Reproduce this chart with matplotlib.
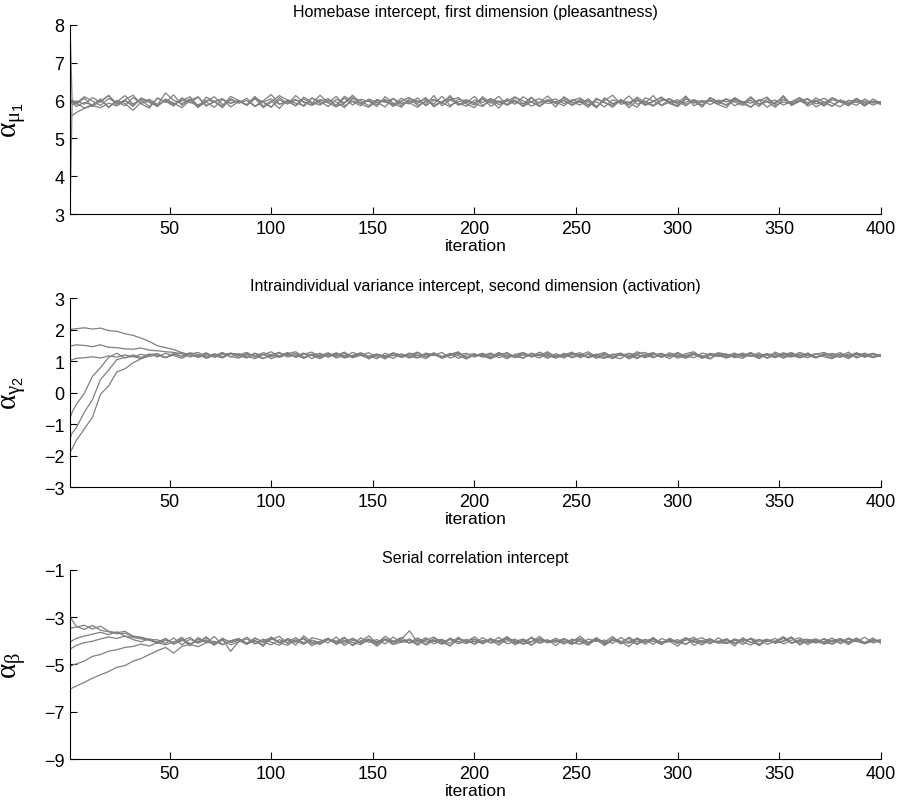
import numpy as np
import matplotlib
matplotlib.use("Agg")
import matplotlib.pyplot as plt

plt.rcParams['font.family'] = ['Liberation Sans', 'DejaVu Sans']
plt.rcParams['mathtext.fontset'] = 'custom'
plt.rcParams['mathtext.it'] = 'Liberation Serif'
plt.rcParams['mathtext.rm'] = 'Liberation Sans'

# iterations at which the chains are drawn
iters = np.r_[1, 2, np.arange(4, 401, 4)]

# ---- panel 1: homebase intercept, first dimension ----
mu_1 = [8.00, 6.02,
        5.90, 6.06, 5.84, 5.99, 6.12, 5.86, 6.02, 6.14, 5.91, 5.80,
        6.07, 5.95, 6.15, 5.87, 6.03, 5.82, 6.09, 5.97, 5.85, 6.11,
        6.00, 5.88, 6.06, 5.81, 5.96, 6.13, 6.01, 5.86, 6.04, 5.92,
        6.14, 5.94, 5.83, 6.07, 5.88, 6.03, 5.98, 5.84, 6.10, 5.93,
        5.82, 6.05, 5.99, 5.89, 6.13, 5.86, 6.01, 6.08, 5.91, 5.81,
        6.04, 5.94, 6.11, 5.87, 5.99, 5.85, 6.07, 5.93, 6.02, 5.83,
        6.10, 5.96, 5.88, 6.05, 5.84, 6.00, 6.14, 5.90, 5.95, 5.82,
        6.07, 5.99, 5.87, 6.03, 5.93, 6.12, 5.86, 5.97, 6.02, 5.89,
        5.81, 6.08, 5.95, 6.00, 5.84, 6.05, 5.91, 6.13, 5.87, 5.98,
        6.03, 5.83, 5.94, 6.07, 5.97, 5.86, 6.01, 5.90, 5.96, 5.92]
mu_2 = [3.00, 5.88,
        5.94, 5.80, 5.89, 6.02, 5.83, 5.97, 5.86, 6.08, 5.92, 5.99,
        5.84, 6.04, 5.93, 5.81, 6.00, 6.10, 5.87, 5.96, 6.05, 5.83,
        5.97, 5.89, 6.11, 5.85, 5.99, 5.79, 6.02, 5.93, 5.87, 6.06,
        5.98, 5.84, 6.03, 5.94, 6.14, 5.91, 5.82, 6.00, 5.96, 6.05,
        5.86, 5.99, 5.92, 6.08, 5.83, 5.97, 6.03, 5.88, 5.94, 6.11,
        5.87, 6.00, 5.80, 6.05, 5.96, 5.91, 6.09, 5.84, 5.99, 5.93,
        6.01, 5.88, 5.97, 5.82, 6.06, 5.94, 5.87, 6.03, 5.81, 6.00,
        5.93, 6.13, 5.86, 5.96, 6.02, 5.90, 5.99, 5.83, 6.08, 5.95,
        5.89, 6.03, 5.97, 5.82, 6.00, 6.09, 5.87, 5.96, 5.91, 6.05,
        5.85, 5.97, 6.06, 5.93, 5.83, 6.01, 5.95, 5.99, 5.88, 5.96]
mu_3 = [5.62, 5.60,
        5.68, 5.79, 5.86, 5.81, 5.93, 5.86, 5.99, 5.89, 6.05, 5.95,
        5.85, 6.02, 5.91, 5.99, 6.10, 5.86, 5.96, 5.82, 6.03, 5.93,
        6.00, 5.88, 6.07, 5.96, 5.83, 6.02, 5.91, 6.13, 5.95, 5.87,
        5.98, 6.05, 5.84, 5.93, 6.09, 5.99, 5.86, 6.03, 5.96, 5.88,
        6.06, 5.94, 5.82, 6.00, 5.91, 6.11, 5.87, 5.97, 6.02, 5.92,
        5.84, 6.04, 5.96, 5.89, 6.08, 5.99, 5.85, 5.95, 6.12, 5.91,
        6.00, 5.87, 6.03, 5.96, 5.81, 6.06, 5.92, 5.98, 5.88, 6.09,
        5.95, 5.85, 5.99, 6.05, 5.90, 5.96, 6.02, 5.83, 6.07, 5.97,
        5.87, 6.00, 5.92, 6.10, 5.89, 5.97, 5.82, 6.03, 5.94, 5.99,
        6.05, 5.91, 5.96, 5.85, 6.02, 5.92, 6.06, 5.87, 5.98, 5.95]
mu_4 = [5.95, 5.90,
        5.99, 5.90, 6.08, 5.95, 6.14, 5.91, 6.01, 5.84, 6.07, 5.97,
        5.88, 6.20, 6.00, 5.92, 6.04, 5.82, 5.97, 6.10, 5.89, 6.01,
        5.94, 6.06, 5.85, 5.99, 6.16, 5.90, 5.96, 6.03, 5.84, 6.07,
        5.92, 6.00, 5.88, 6.11, 5.97, 5.86, 6.04, 5.94, 6.01, 5.90,
        5.99, 6.08, 5.87, 5.96, 6.03, 5.92, 6.13, 5.89, 6.00, 5.94,
        6.05, 5.85, 5.97, 6.01, 5.90, 6.10, 5.96, 5.86, 5.99, 6.04,
        5.92, 6.00, 6.07, 5.88, 5.97, 5.83, 6.02, 5.94, 6.12, 5.90,
        5.99, 5.87, 6.04, 5.96, 5.85, 6.08, 5.93, 6.00, 5.89, 6.01,
        5.96, 6.06, 5.91, 5.83, 6.02, 5.97, 5.92, 6.10, 5.87, 5.99,
        5.94, 6.01, 5.88, 6.07, 5.97, 5.90, 6.00, 5.85, 6.04, 5.93]
mu_5 = [5.92, 5.97,
        5.84, 5.95, 5.88, 6.04, 5.81, 6.00, 5.92, 5.74, 5.96, 6.03,
        5.90, 5.99, 5.85, 6.07, 5.95, 5.88, 6.01, 5.97, 5.81, 6.05,
        5.93, 6.00, 5.84, 5.96, 6.04, 5.90, 5.98, 5.86, 6.09, 5.95,
        5.88, 6.01, 5.96, 5.81, 6.05, 5.93, 5.99, 5.89, 6.03, 5.84,
        5.97, 5.91, 6.07, 5.86, 6.00, 5.95, 5.83, 6.04, 5.96, 5.88,
        6.10, 5.93, 5.99, 5.89, 6.01, 5.84, 5.97, 6.05, 5.92, 5.96,
        5.86, 6.02, 5.95, 6.00, 5.81, 6.07, 5.90, 5.99, 5.93, 6.01,
        5.87, 5.97, 6.09, 5.92, 5.84, 6.04, 5.96, 5.89, 6.00, 5.95,
        6.05, 5.86, 5.97, 5.93, 6.01, 5.82, 5.96, 6.03, 5.91, 5.99,
        5.89, 6.07, 5.95, 5.85, 6.00, 5.96, 5.87, 6.04, 5.93, 5.97]
mu_6 = [5.98, 6.01,
        5.93, 6.10, 5.99, 5.87, 6.05, 5.96, 6.13, 5.91, 6.01, 5.84,
        6.06, 5.97, 5.89, 6.02, 5.94, 6.09, 5.85, 5.98, 6.04, 5.92,
        6.00, 5.87, 6.05, 5.96, 5.82, 6.08, 5.91, 6.01, 5.97, 5.88,
        6.03, 5.94, 6.11, 5.86, 5.98, 5.92, 6.02, 5.96, 5.83, 6.06,
        5.91, 5.99, 5.96, 6.04, 5.87, 5.97, 6.08, 5.93, 5.85, 6.01,
        5.95, 6.05, 5.89, 5.98, 6.10, 5.91, 5.97, 5.85, 6.02, 5.96,
        6.06, 5.93, 6.00, 5.87, 6.03, 5.96, 5.82, 6.01, 5.95, 6.05,
        5.89, 5.98, 6.09, 5.93, 5.97, 5.86, 6.02, 5.95, 5.99, 5.90,
        6.03, 5.96, 5.87, 6.06, 5.91, 5.98, 6.01, 5.88, 5.97, 6.08,
        5.93, 5.99, 5.85, 6.02, 5.96, 5.90, 6.05, 5.94, 5.98, 5.89]

# ---- panel 2: intraindividual variance intercept, second dimension ----
gam_1 = [2.00, 2.02,
         2.03, 2.06, 2.02, 2.05, 1.97, 1.95, 1.87, 1.82, 1.73, 1.63,
         1.49, 1.43, 1.37, 1.27, 1.21, 1.16, 1.27, 1.12, 1.22, 1.25,
         1.12, 1.24, 1.16, 1.08, 1.21, 1.28, 1.13, 1.20, 1.09, 1.23,
         1.17, 1.27, 1.10, 1.19, 1.14, 1.25, 1.07, 1.22, 1.15, 1.26,
         1.12, 1.19, 1.29, 1.13, 1.23, 1.09, 1.18, 1.25, 1.12, 1.21,
         1.16, 1.08, 1.26, 1.17, 1.13, 1.23, 1.20, 1.10, 1.27, 1.15,
         1.21, 1.11, 1.19, 1.30, 1.13, 1.09, 1.23, 1.17, 1.25, 1.12,
         1.20, 1.27, 1.13, 1.22, 1.10, 1.18, 1.26, 1.15, 1.07, 1.23,
         1.14, 1.21, 1.17, 1.28, 1.11, 1.20, 1.24, 1.09, 1.21, 1.16,
         1.26, 1.13, 1.20, 1.10, 1.23, 1.17, 1.27, 1.12, 1.21, 1.15]
gam_2 = [1.50, 1.49,
         1.52, 1.50, 1.46, 1.52, 1.44, 1.43, 1.39, 1.38, 1.42, 1.35,
         1.33, 1.30, 1.28, 1.23, 1.20, 1.14, 1.23, 1.17, 1.11, 1.24,
         1.22, 1.13, 1.26, 1.09, 1.19, 1.16, 1.28, 1.12, 1.23, 1.18,
         1.08, 1.22, 1.15, 1.25, 1.11, 1.19, 1.27, 1.13, 1.18, 1.09,
         1.23, 1.16, 1.10, 1.26, 1.20, 1.13, 1.21, 1.29, 1.11, 1.18,
         1.25, 1.12, 1.20, 1.08, 1.22, 1.27, 1.15, 1.23, 1.13, 1.19,
         1.10, 1.25, 1.18, 1.14, 1.23, 1.11, 1.20, 1.26, 1.07, 1.21,
         1.15, 1.24, 1.12, 1.27, 1.18, 1.09, 1.22, 1.14, 1.25, 1.19,
         1.11, 1.18, 1.26, 1.15, 1.21, 1.10, 1.29, 1.17, 1.13, 1.23,
         1.20, 1.10, 1.24, 1.17, 1.12, 1.23, 1.15, 1.26, 1.13, 1.20]
gam_3 = [1.06, 1.04,
         1.09, 1.11, 1.14, 1.10, 1.17, 1.13, 1.20, 1.14, 1.22, 1.16,
         1.21, 1.11, 1.25, 1.15, 1.23, 1.12, 1.21, 1.17, 1.28, 1.13,
         1.24, 1.16, 1.08, 1.22, 1.14, 1.26, 1.18, 1.25, 1.10, 1.20,
         1.13, 1.23, 1.18, 1.29, 1.12, 1.22, 1.16, 1.08, 1.25, 1.17,
         1.22, 1.10, 1.20, 1.15, 1.27, 1.13, 1.23, 1.18, 1.07, 1.21,
         1.18, 1.26, 1.11, 1.20, 1.15, 1.28, 1.13, 1.22, 1.09, 1.24,
         1.15, 1.21, 1.27, 1.11, 1.20, 1.17, 1.08, 1.24, 1.13, 1.30,
         1.20, 1.11, 1.23, 1.15, 1.26, 1.12, 1.22, 1.09, 1.18, 1.27,
         1.22, 1.15, 1.09, 1.25, 1.18, 1.24, 1.12, 1.20, 1.28, 1.11,
         1.18, 1.24, 1.14, 1.08, 1.22, 1.13, 1.26, 1.20, 1.11, 1.18]
gam_4 = [-0.80, -0.62,
         -0.38, -0.02, 0.52, 0.80, 1.12, 1.25, 1.10, 1.20, 1.12, 1.23,
         1.14, 1.25, 1.18, 1.09, 1.22, 1.28, 1.15, 1.20, 1.11, 1.24,
         1.18, 1.10, 1.24, 1.20, 1.30, 1.13, 1.22, 1.15, 1.26, 1.08,
         1.21, 1.15, 1.27, 1.12, 1.18, 1.24, 1.13, 1.20, 1.07, 1.26,
         1.15, 1.24, 1.11, 1.22, 1.18, 1.28, 1.10, 1.20, 1.25, 1.13,
         1.22, 1.08, 1.20, 1.26, 1.15, 1.11, 1.24, 1.18, 1.30, 1.13,
         1.20, 1.27, 1.13, 1.22, 1.09, 1.25, 1.15, 1.20, 1.11, 1.24,
         1.28, 1.13, 1.20, 1.08, 1.24, 1.18, 1.11, 1.26, 1.20, 1.15,
         1.23, 1.11, 1.22, 1.15, 1.27, 1.09, 1.20, 1.13, 1.25, 1.18,
         1.11, 1.22, 1.28, 1.15, 1.20, 1.08, 1.24, 1.18, 1.13, 1.21]
gam_5 = [-1.45, -1.28,
         -1.12, -0.62, -0.22, 0.42, 0.72, 1.05, 1.12, 1.15, 1.08, 1.21,
         1.24, 1.12, 1.20, 1.28, 1.13, 1.22, 1.09, 1.18, 1.25, 1.15,
         1.10, 1.22, 1.15, 1.27, 1.20, 1.12, 1.24, 1.30, 1.13, 1.20,
         1.25, 1.13, 1.22, 1.10, 1.18, 1.27, 1.15, 1.23, 1.11, 1.20,
         1.13, 1.26, 1.18, 1.08, 1.24, 1.15, 1.22, 1.29, 1.11, 1.18,
         1.24, 1.15, 1.28, 1.12, 1.20, 1.09, 1.26, 1.17, 1.22, 1.11,
         1.18, 1.29, 1.11, 1.24, 1.15, 1.22, 1.13, 1.08, 1.25, 1.20,
         1.11, 1.20, 1.25, 1.15, 1.28, 1.13, 1.22, 1.18, 1.09, 1.24,
         1.18, 1.26, 1.13, 1.20, 1.08, 1.24, 1.15, 1.27, 1.18, 1.11,
         1.22, 1.13, 1.18, 1.25, 1.15, 1.29, 1.10, 1.20, 1.24, 1.15]
gam_6 = [-1.88, -1.78,
         -1.52, -1.15, -0.78, -0.05, 0.22, 0.66, 0.76, 0.95, 1.08, 1.16,
         1.20, 1.11, 1.23, 1.15, 1.27, 1.20, 1.12, 1.24, 1.14, 1.26,
         1.20, 1.28, 1.13, 1.22, 1.08, 1.18, 1.25, 1.15, 1.22, 1.29,
         1.12, 1.20, 1.24, 1.13, 1.28, 1.18, 1.10, 1.22, 1.15, 1.26,
         1.20, 1.12, 1.27, 1.15, 1.22, 1.13, 1.25, 1.09, 1.20, 1.24,
         1.13, 1.22, 1.18, 1.27, 1.11, 1.20, 1.15, 1.29, 1.18, 1.10,
         1.25, 1.15, 1.22, 1.11, 1.20, 1.28, 1.13, 1.24, 1.18, 1.08,
         1.22, 1.26, 1.13, 1.20, 1.15, 1.24, 1.30, 1.11, 1.22, 1.18,
         1.10, 1.22, 1.18, 1.26, 1.13, 1.20, 1.11, 1.24, 1.15, 1.28,
         1.18, 1.12, 1.24, 1.20, 1.27, 1.13, 1.22, 1.15, 1.25, 1.18]

# ---- panel 3: serial correlation intercept ----
bet_1 = [-3.00, -3.12,
         -3.38, -3.52, -3.35, -3.55, -3.62, -3.70, -3.68, -3.82, -3.88, -3.95,
         -4.05, -3.90, -4.14, -3.95, -4.20, -3.86, -4.08, -3.82, -4.17, -4.00,
         -3.90, -4.12, -3.97, -4.24, -3.84, -4.06, -3.93, -4.18, -3.79, -4.07,
         -4.15, -3.94, -4.03, -3.85, -4.21, -4.00, -3.92, -4.11, -3.81, -4.02,
         -3.93, -3.58, -4.06, -3.87, -4.13, -3.97, -4.22, -3.90, -4.04, -3.83,
         -4.09, -3.96, -4.19, -3.88, -4.01, -4.14, -3.84, -4.07, -3.95, -4.20,
         -3.91, -4.05, -3.80, -4.10, -3.98, -4.16, -3.89, -4.02, -4.25, -3.93,
         -4.07, -3.86, -4.14, -3.96, -4.03, -3.88, -4.19, -4.00, -3.91, -4.11,
         -3.97, -4.22, -3.87, -4.08, -3.94, -4.15, -4.02, -3.82, -4.10, -3.95,
         -4.16, -3.96, -4.05, -3.88, -4.13, -3.93, -4.04, -3.85, -4.09, -4.00]
bet_2 = [-3.50, -3.45,
         -3.42, -3.34, -3.50, -3.38, -3.60, -3.66, -3.60, -3.80, -3.85, -3.94,
         -3.96, -4.11, -3.88, -4.17, -3.94, -4.07, -3.83, -4.14, -3.92, -4.45,
         -4.03, -3.85, -4.12, -3.93, -4.06, -4.19, -3.90, -4.01, -4.15, -3.87,
         -3.95, -4.09, -3.84, -4.20, -3.98, -4.04, -3.79, -4.10, -3.96, -4.16,
         -4.06, -3.92, -4.13, -3.98, -3.84, -4.07, -4.21, -3.93, -4.02, -4.12,
         -3.86, -4.10, -4.00, -3.90, -4.17, -3.95, -4.05, -3.81, -4.08, -3.98,
         -4.14, -3.93, -4.04, -4.19, -3.88, -4.08, -3.96, -4.12, -3.85, -4.05,
         -3.95, -4.15, -3.91, -4.02, -4.23, -3.90, -4.07, -3.98, -4.13, -3.87,
         -4.08, -3.95, -4.16, -3.89, -4.03, -3.93, -4.11, -4.00, -3.83, -4.18,
         -3.98, -4.10, -3.90, -4.05, -3.95, -4.16, -3.92, -4.07, -3.97, -4.03]
bet_3 = [-4.08, -4.00,
         -3.90, -3.80, -3.72, -3.64, -3.74, -3.62, -3.80, -3.86, -3.92, -3.98,
         -4.08, -3.91, -4.14, -4.00, -3.86, -4.10, -3.96, -4.19, -3.92, -4.05,
         -3.98, -4.16, -3.89, -4.07, -3.95, -3.81, -4.11, -4.02, -3.92, -4.21,
         -4.03, -3.90, -4.10, -3.98, -4.18, -3.87, -4.07, -3.95, -4.13, -3.84,
         -4.07, -3.97, -4.19, -3.92, -4.02, -4.12, -3.89, -4.05, -3.94, -4.15,
         -3.98, -4.08, -3.85, -4.13, -4.03, -3.92, -4.18, -3.97, -4.07, -3.89,
         -4.10, -4.00, -3.90, -4.16, -3.95, -4.05, -3.82, -4.13, -4.02, -3.93,
         -4.15, -3.92, -4.05, -3.97, -4.12, -3.87, -4.02, -4.18, -3.93, -4.08,
         -3.91, -4.13, -4.00, -3.93, -4.21, -3.98, -4.07, -3.89, -4.10, -4.02,
         -4.05, -3.95, -4.15, -4.00, -3.90, -4.10, -3.98, -4.08, -3.88, -4.12]
bet_4 = [-4.38, -4.30,
         -4.20, -4.08, -4.02, -3.92, -3.84, -3.90, -3.80, -3.95, -4.04, -3.92,
         -4.11, -3.98, -4.07, -3.85, -4.18, -3.94, -4.03, -4.15, -3.89, -4.08,
         -3.97, -4.10, -3.88, -4.05, -4.17, -3.95, -4.08, -3.86, -4.13, -3.98,
         -4.07, -3.89, -4.15, -4.02, -3.92, -4.11, -3.97, -4.23, -3.94, -4.03,
         -3.86, -4.10, -3.98, -4.16, -3.90, -4.05, -3.95, -4.13, -4.00, -3.92,
         -4.13, -3.94, -4.03, -3.82, -4.08, -4.00, -4.19, -3.90, -4.05, -3.97,
         -4.02, -4.15, -3.92, -4.07, -3.87, -4.12, -3.98, -4.05, -3.90, -4.16,
         -3.94, -4.03, -4.13, -3.89, -4.08, -3.98, -3.85, -4.10, -4.00, -4.07,
         -4.11, -3.92, -4.05, -4.18, -3.95, -4.03, -3.90, -4.13, -3.98, -3.87,
         -4.08, -4.02, -3.94, -4.15, -3.97, -4.07, -3.88, -4.11, -4.02, -3.95]
bet_5 = [-5.08, -5.04,
         -4.98, -4.86, -4.66, -4.58, -4.44, -4.38, -4.28, -4.24, -4.14, -4.22,
         -4.08, -4.17, -4.05, -3.92, -4.12, -4.03, -3.88, -4.10, -3.98, -4.17,
         -4.05, -3.92, -4.13, -4.00, -3.87, -4.08, -4.19, -3.95, -4.07, -3.97,
         -4.14, -3.93, -4.02, -4.11, -3.89, -4.07, -3.98, -4.16, -3.92, -4.05,
         -3.97, -4.08, -3.90, -4.18, -4.00, -3.94, -4.11, -3.85, -4.07, -4.02,
         -4.10, -3.95, -4.05, -3.92, -4.15, -4.03, -3.89, -4.11, -3.98, -4.07,
         -3.90, -4.13, -4.00, -4.08, -3.93, -4.20, -3.97, -4.03, -4.10, -3.88,
         -4.03, -3.95, -4.16, -3.92, -4.07, -4.13, -3.98, -3.87, -4.08, -4.02,
         -3.93, -4.10, -4.02, -3.90, -4.15, -3.97, -4.08, -4.03, -3.89, -4.11,
         -4.00, -3.92, -4.07, -4.13, -3.95, -4.05, -3.90, -4.10, -4.00, -3.97]
bet_6 = [-6.05, -6.00,
         -5.92, -5.76, -5.58, -5.44, -5.30, -5.12, -5.05, -4.86, -4.75, -4.58,
         -4.42, -4.28, -4.52, -4.24, -4.15, -4.25, -4.08, -4.02, -4.16, -4.00,
         -3.94, -4.12, -4.01, -4.17, -3.90, -4.09, -3.97, -4.06, -3.88, -4.13,
         -4.03, -3.95, -4.12, -3.89, -4.07, -4.16, -3.96, -4.04, -3.92, -4.11,
         -4.00, -4.09, -3.88, -4.06, -3.97, -4.15, -3.92, -4.03, -4.12, -3.95,
         -4.06, -3.90, -4.10, -4.01, -3.93, -4.14, -4.05, -3.91, -4.09, -4.00,
         -3.95, -4.07, -4.15, -3.92, -4.03, -3.97, -4.11, -3.86, -4.06, -4.12,
         -4.02, -3.91, -4.09, -4.04, -3.95, -4.16, -3.92, -4.07, -3.98, -4.03,
         -4.12, -4.00, -3.94, -4.06, -4.17, -3.96, -4.03, -3.89, -4.09, -3.98,
         -3.93, -4.05, -4.11, -3.97, -4.06, -3.88, -4.02, -4.13, -3.95, -4.04]

titles = ["Homebase intercept, first dimension (pleasantness)",
          "Intraindividual variance intercept, second dimension (activation)",
          "Serial correlation intercept"]
ylabels = [r"$\alpha_{\mu_{\mathrm{1}}}$", r"$\alpha_{\gamma_{\mathrm{2}}}$", r"$\alpha_{\beta}$"]
ylims = [(3, 8), (-3, 3), (-9, -1)]
yticks = [[3, 4, 5, 6, 7, 8], [-3, -2, -1, 0, 1, 2, 3], [-9, -7, -5, -3, -1]]
xticks = [50, 100, 150, 200, 250, 300, 350, 400]

chains = [[mu_1, mu_2, mu_3, mu_4, mu_5, mu_6],
          [gam_1, gam_2, gam_3, gam_4, gam_5, gam_6],
          [bet_1, bet_2, bet_3, bet_4, bet_5, bet_6]]


def tracePanel(ax, series, title, ylabel, ylim, ytk):
    for s in series:
        ax.plot(iters, s, color='#808080', linewidth=0.9)
    ax.set_xlim(1, 400)
    ax.set_ylim(*ylim)
    ax.set_xticks(xticks)
    ax.set_yticks(ytk)
    ax.spines['top'].set_visible(False)
    ax.spines['right'].set_visible(False)
    for sp in ['left', 'bottom']:
        ax.spines[sp].set_linewidth(0.8)
    ax.tick_params(direction='in', length=5, width=0.8, labelsize=13, pad=4)
    ax.set_title(title, fontsize=11.5, pad=6)
    ax.set_xlabel("iteration", fontsize=12.5, labelpad=1)
    ax.set_ylabel(ylabel, fontsize=21)
    ax.yaxis.set_label_coords(-0.052, 0.5)


fig = plt.figure(figsize=(8.98, 8.12), dpi=100)
bottoms = [0.7352, 0.3986, 0.064]
for i in range(3):
    ax = fig.add_axes([0.078, bottoms[i], 0.903, 0.233])
    tracePanel(ax, chains[i], titles[i], ylabels[i], ylims[i], yticks[i])

fig.savefig("out.png", dpi=100)
